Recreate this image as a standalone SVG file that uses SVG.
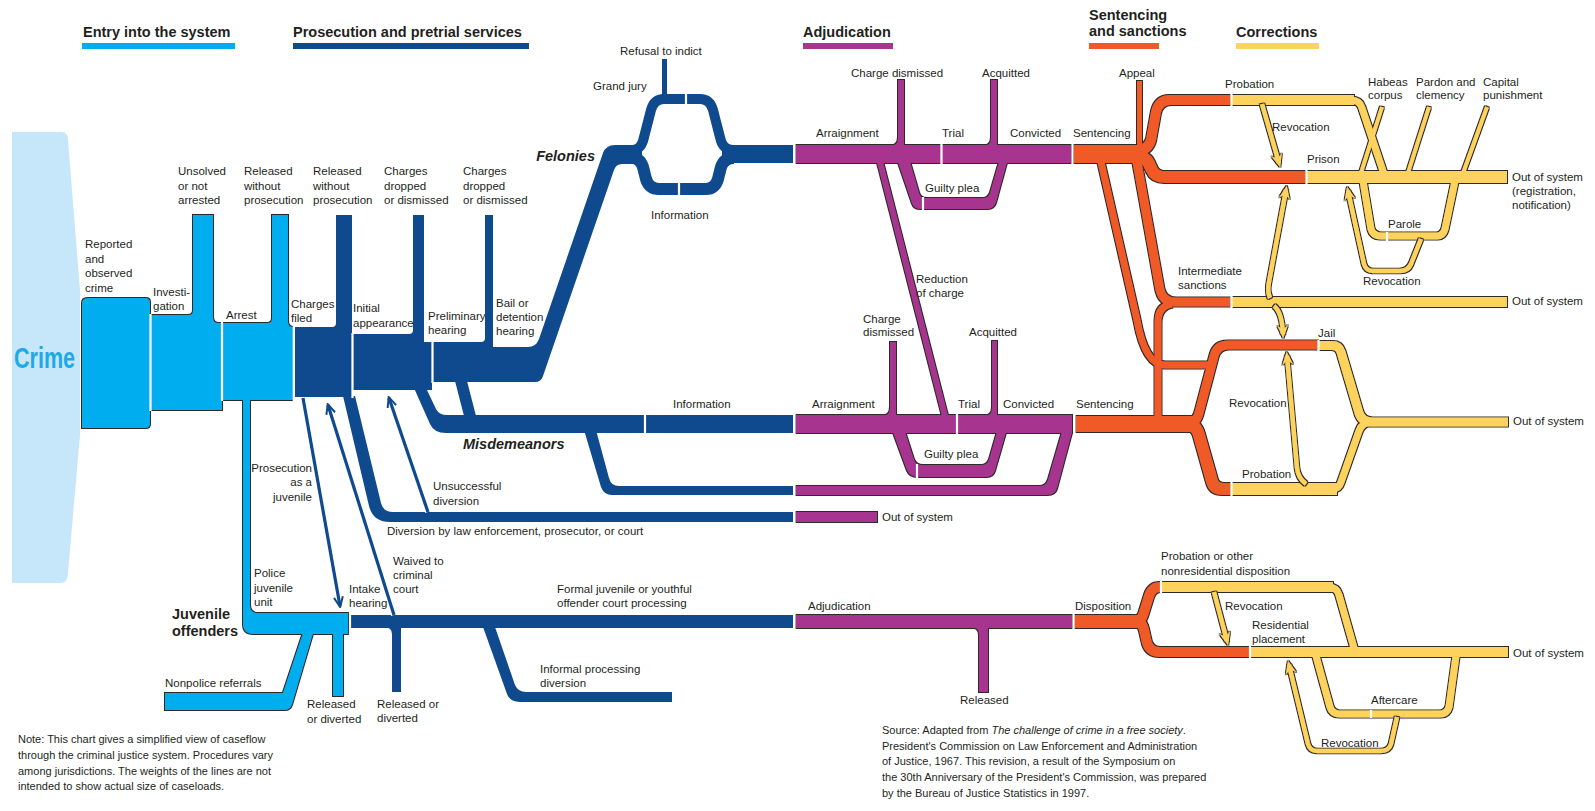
<svg xmlns="http://www.w3.org/2000/svg" width="1595" height="811" viewBox="0 0 1595 811">
<defs>
<style>
text{font-family:"Liberation Sans",Arial,sans-serif;font-size:11.5px;fill:#231f20}
.h{font-weight:bold;font-size:14.5px}
.bi{font-weight:bold;font-style:italic;font-size:14.5px}
.sm{font-size:11px}
.lb{fill:#00aeef}
.db{fill:#0f4a8e}
.pu{fill:#a7368f}
.or{fill:#f05a28}
.ye{fill:#fdd35d}
.sdb{fill:none;stroke:#0f4a8e}
.sor{fill:none;stroke:#f05a28}
.sye{fill:none;stroke:#fdd35d}
.sep{fill:none;stroke:#fff;stroke-width:2.2}
.arb{fill:none;stroke:#0f4a8e;stroke-width:3.2}
.arw{fill:none;stroke:#fff;stroke-width:6}
.ary{fill:none;stroke:#fdd35d;stroke-width:4.5}
</style>
<filter id="ol" filterUnits="userSpaceOnUse" x="0" y="0" width="1595" height="811">
<feMorphology in="SourceAlpha" operator="dilate" radius="0.8" result="d"/>
<feFlood flood-color="#2e2a2b" result="c"/>
<feComposite in="c" in2="d" operator="in" result="o"/>
<feMerge><feMergeNode in="o"/><feMergeNode in="SourceGraphic"/></feMerge>
</filter>
<marker id="ab" viewBox="0 0 12 12" refX="10" refY="6" markerWidth="12" markerHeight="12" markerUnits="userSpaceOnUse" orient="auto">
<path d="M1,1.5 L11,6 L1,10.5" fill="none" stroke="#0f4a8e" stroke-width="2"/>
</marker>
<marker id="ay" viewBox="0 0 12 12" refX="8" refY="6" markerWidth="13" markerHeight="13" markerUnits="userSpaceOnUse" orient="auto">
<path d="M0,1 L12,6 L0,11 L4,6 Z" fill="#fdd35d"/>
</marker>
</defs>
<rect width="1595" height="811" fill="#fff"/>

<g id="crime">
<path fill="#c6e7f9" d="M12,132 L61,132 Q68,132 68,140 L80,290 L80,435 L68,573 Q68,583 60,583 L12,583 Z"/>
</g>

<g id="entry" filter="url(#ol)">
<path class="lb" d="M82,304 Q82,298 88,298 L145,298 Q150,298 150,303 L150,315 L189,315 Q193,315 193,311 L193,215 L213,215 L213,318 Q213,323 218,323 L268,323 Q272,323 272,319 L272,215 L288,215 L288,322 Q288,327 293,327 L293,400 L222,400 L222,410 L150,410 L150,423 Q150,428 145,428 L82,428 Z"/>
<path class="lb" d="M243,399 L250,399 L250,606 Q250,613 257,613 L348,613 L348,634 L254,634 Q243,634 243,623 Z"/>
<path class="lb" d="M165,693 L283,693 L303,633 L313,633 L292,704 Q290,710 284,710 L165,710 Z"/>
<rect class="lb" x="333" y="633" width="10" height="63"/>
</g>

<g id="prosecution">
<path class="db" d="M295,327 L332,327 Q336,327 336,323 L336,215 L352,215 L352,334 L409,334 Q413,334 413,330 L413,215 L424,215 L424,342 L481,342 Q485,342 485,338 L485,215 L493,215 L493,347 L528,347 Q536,347 539,339 L603,153 Q606,145 615,145 L642,145 L642,164 L622,164 Q616,164 614,170 L543,376 Q541,382 535,382 L432,382 L432,390 L352,390 L352,397 L295,397 Z"/>
<path class="sdb" stroke-width="10" d="M632,150 Q640,150 643,141 L651,110 Q654,99 664,99 L700,99 Q710,99 713,110 L721,141 Q724,150 734,150"/>
<path class="sdb" stroke-width="12" d="M632,158 Q640,158 643,167 L646,179 Q649,189 659,189 L706,189 Q715,189 718,179 L721,167 Q724,158 734,158"/>
<rect class="db" x="722" y="145" width="71" height="18"/>
<rect class="db" x="662" y="59" width="5" height="37"/>
<path class="db" d="M414,388 L426,388 L436,409 Q439,415 447,415 L793,415 L793,433 L446,433 Q434,433 430,424 Z"/>
<path class="db" d="M455,381 L467,381 L476,416 L464,416 Z"/>
<path class="db" d="M584,430 L596,430 L609,478 Q611,486 619,486 L793,486 L793,495 L612,495 Q604,495 601,487 Z"/>
<path class="db" d="M343,396 L355,396 L381,503 Q383,512 393,512 L793,512 L793,522 L390,522 Q373,522 369,506 Z"/>
<rect class="db" x="350" y="615" width="443" height="13"/>
<path class="db" d="M385,627 L401,627 L401,692 L392,692 L392,634 Q392,628 385,627 Z"/>
<path class="db" d="M483,627 L495,627 L515,685 Q518,692 526,692 L672,692 L672,702 L520,702 Q510,702 507,694 Z"/>
</g>

<g id="connectors">
<path class="arw" d="M303,398 L340,606"/>
<path class="arb" d="M303,398 L340,606" marker-end="url(#ab)"/>
<path class="arw" d="M394,615 L328,405"/>
<path class="arb" d="M394,615 L328,405" marker-end="url(#ab)"/>
<path class="arw" d="M428,512 L389,398"/>
<path class="arb" d="M428,512 L389,398" marker-end="url(#ab)"/>
</g>

<g id="adjudication" filter="url(#ol)">
<rect class="pu" x="796" y="145" width="275" height="18"/>
<path class="pu" d="M898,80 L904,80 L904,146 L890,146 Q898,146 898,138 Z"/>
<path class="pu" d="M991,80 L997,80 L997,146 L983,146 Q991,146 991,138 Z"/>
<path class="pu" d="M898,162 L910,162 L919,193 Q920,198 926,198 L984,198 Q988,198 990,193 L999,162 L1007,162 L996,202 Q994,209 987,209 L921,209 Q914,209 912,203 Z"/>
<path class="pu" d="M877,162 L883,162 L948,416 L942,416 Z"/>
<rect class="pu" x="796" y="415" width="276" height="18"/>
<path class="pu" d="M890,342 L896,342 L896,416 L882,416 Q890,416 890,408 Z"/>
<path class="pu" d="M992,341 L997,341 L997,416 L984,416 Q992,416 992,408 Z"/>
<path class="pu" d="M893,432 L905,432 L914,460 Q916,465 922,465 L982,465 Q987,465 989,460 L997,432 L1006,432 L995,470 Q993,477 986,477 L918,477 Q910,477 907,470 Z"/>
<path class="pu" d="M796,486 L1040,486 Q1046,486 1048,480 L1062,432 L1072,432 L1057,488 Q1055,495 1047,495 L796,495 Z"/>
<rect class="pu" x="796" y="512" width="81" height="10"/>
<rect class="pu" x="796" y="615" width="276" height="13"/>
<path class="pu" d="M971,627 L988,627 L988,692 L979,692 L979,634 Q979,627 971,627 Z"/>
</g>

<g id="sentencing" filter="url(#ol)">
<rect class="or" x="1074" y="145" width="72" height="18"/>
<rect class="or" x="1137" y="81" width="5" height="66"/>
<path class="sor" stroke-width="10" d="M1138,150 Q1148,150 1151,140 L1156,112 Q1159,100 1170,100 L1231,100"/>
<path class="sor" stroke-width="12" d="M1138,157 Q1147,157 1150,166 L1152,170 Q1155,177 1165,177 L1306,177"/>
<path class="sor" stroke-width="7" d="M1101,162 L1137,320 Q1145,365 1165,365 L1214,365"/>
<path class="sor" stroke-width="9" d="M1137,162 L1160,290 Q1163,302 1175,302 L1231,302"/>
<path class="sor" stroke-width="7" d="M1158,418 L1158,322 Q1158,306 1172,304"/>
<rect class="or" x="1076" y="416" width="117" height="16"/>
<path class="sor" stroke-width="9" d="M1186,424 Q1196,424 1199,413 L1214,356 Q1217,345 1228,345 L1318,345"/>
<path class="sor" stroke-width="12" d="M1186,424 Q1196,424 1199,435 L1212,481 Q1214,489 1223,489 L1231,489"/>
<rect class="or" x="1074" y="615" width="66" height="13"/>
<path class="sor" stroke-width="10" d="M1135,621 Q1142,621 1144,612 L1149,596 Q1152,587 1160,587 L1162,587"/>
<path class="sor" stroke-width="10" d="M1135,621 Q1142,621 1144,630 L1147,643 Q1150,652 1160,652 L1250,652"/>
</g>

<g id="corrections" filter="url(#ol)">
<path class="sye" stroke-width="4" d="M1360,176 L1382,107"/>
<path class="sye" stroke-width="4" d="M1407,176 L1429,107"/>
<path class="sye" stroke-width="4" d="M1462,176 L1487,107"/>
<rect class="ye" x="1232" y="95" width="122" height="10"/>
<path class="sye" stroke-width="7" d="M1350,100 Q1360,100 1362,108 L1384,174"/>
<rect class="ye" x="1307" y="171" width="200" height="12"/>
<path class="sye" stroke-width="7" d="M1363,181 L1371,229 Q1373,236 1381,236 L1437,236 Q1443,236 1445,229 L1455,181"/>
<rect class="ye" x="1232" y="297" width="275" height="10"/>
<path class="sye" stroke-width="9" d="M1319,345.5 L1332,345.5 Q1339,345.5 1341,352 L1359,413 Q1362,422 1372,422 L1508,422"/>
<rect class="ye" x="1232" y="483" width="105" height="12"/>
<path class="sye" stroke-width="7" d="M1332,489 Q1339,489 1341,482 L1359,431 Q1362,422 1372,422"/>
<rect class="ye" x="1161" y="582" width="172" height="10"/>
<path class="sye" stroke-width="7" d="M1328,587 Q1337,587 1339,595 L1354,648"/>
<rect class="ye" x="1250" y="647" width="258" height="10"/>
<path class="sye" stroke-width="7" d="M1316,656 L1330,707 Q1332,714 1340,714 L1440,714 Q1447,714 1449,707 L1456,656"/>
</g>

<g id="revocations" filter="url(#ol)">
<path class="ary" d="M1262,104 L1279,163" marker-end="url(#ay)"/>
<path class="ary" d="M1270,298 Q1267,292 1269,282 L1286,190" marker-end="url(#ay)"/>
<path class="ary" d="M1274,306 Q1282,312 1283,334" marker-end="url(#ay)"/>
<path class="ary" d="M1306,484 Q1298,478 1297,468 L1287,356" marker-end="url(#ay)"/>
<path class="ary" d="M1421,239 L1411,264 Q1408,271 1400,271 L1373,271 Q1366,271 1364,264 L1348,191" marker-end="url(#ay)"/>
<path class="ary" d="M1214,592 L1227,641" marker-end="url(#ay)"/>
<path class="ary" d="M1397,717 L1391,744 Q1389,751 1381,751 L1317,751 Q1310,751 1308,744 L1289,665" marker-end="url(#ay)"/>
</g>

<g id="separators">
<path class="sep" d="M150.5,314 V411 M222,322 V401 M293.8,326 V401 M350,612 V635 M352.5,333 V398 M432.5,341 V383 M686,93 V105 M679,182 V196 M645,414 V434 M794.5,143 V165 M794.5,414 V434 M794.5,485 V496 M794.5,511 V523 M794.5,614 V629 M941.5,144 V164 M957,414 V434 M923,197 V210 M917,464 V478 M1072.5,144 V164 M1074.5,414 V434 M1073.5,614 V629 M1231.5,94 V106 M1306.5,170 V184 M1231.5,296 V308 M1318.5,340 V351 M1231.5,482 V496 M1161,581 V593 M1250,646 V658 M1387,232 V241 M1371,710 V718"/>
</g>

<g id="headers">
<text class="h" x="83" y="37">Entry into the system</text>
<rect x="82" y="43" width="153" height="6" fill="#00aeef"/>
<text class="h" x="293" y="37">Prosecution and pretrial services</text>
<rect x="293" y="43" width="236" height="6" fill="#0f4a8e"/>
<text class="h" x="803" y="37">Adjudication</text>
<rect x="803" y="43" width="90" height="6" fill="#a7368f"/>
<text class="h" x="1089" y="20">Sentencing</text>
<text class="h" x="1089" y="36">and sanctions</text>
<rect x="1089" y="43" width="70" height="6" fill="#f05a28"/>
<text class="h" x="1236" y="37">Corrections</text>
<rect x="1236" y="43" width="83" height="6" fill="#fdd35d"/>
</g>

<g id="labels">
<text x="14" y="368" font-size="29" font-weight="bold" style="fill:#1fa9e6;font-size:29px" textLength="61" lengthAdjust="spacingAndGlyphs">Crime</text>
<text x="85" y="248">Reported</text><text x="85" y="263">and</text><text x="85" y="277">observed</text><text x="85" y="292">crime</text>
<text x="153" y="296">Investi-</text><text x="153" y="310">gation</text>
<text x="178" y="175">Unsolved</text><text x="178" y="190">or not</text><text x="178" y="204">arrested</text>
<text x="244" y="175">Released</text><text x="244" y="190">without</text><text x="244" y="204">prosecution</text>
<text x="226" y="319">Arrest</text>
<text x="291" y="308">Charges</text><text x="291" y="322">filed</text>
<text x="313" y="175">Released</text><text x="313" y="190">without</text><text x="313" y="204">prosecution</text>
<text x="384" y="175">Charges</text><text x="384" y="190">dropped</text><text x="384" y="204">or dismissed</text>
<text x="463" y="175">Charges</text><text x="463" y="190">dropped</text><text x="463" y="204">or dismissed</text>
<text x="353" y="312">Initial</text><text x="353" y="327">appearance</text>
<text x="428" y="320">Preliminary</text><text x="428" y="334">hearing</text>
<text x="496" y="307">Bail or</text><text x="496" y="321">detention</text><text x="496" y="335">hearing</text>
<text class="bi" x="595" y="161" text-anchor="end">Felonies</text>
<text x="593" y="90">Grand jury</text>
<text x="620" y="55">Refusal to indict</text>
<text x="651" y="219">Information</text>
<text x="816" y="137">Arraignment</text>
<text x="942" y="137">Trial</text>
<text x="1010" y="137">Convicted</text>
<text x="851" y="77">Charge dismissed</text>
<text x="982" y="77">Acquitted</text>
<text x="925" y="192">Guilty plea</text>
<text x="916" y="283">Reduction</text><text x="916" y="297">of charge</text>
<text x="1119" y="77">Appeal</text>
<text x="1073" y="137">Sentencing</text>
<text x="1225" y="88">Probation</text>
<text x="1272" y="131">Revocation</text>
<text x="1307" y="163">Prison</text>
<text x="1368" y="86">Habeas</text><text x="1368" y="99">corpus</text>
<text x="1416" y="86">Pardon and</text><text x="1416" y="99">clemency</text>
<text x="1483" y="86">Capital</text><text x="1483" y="99">punishment</text>
<text x="1512" y="181">Out of system</text><text x="1512" y="195">(registration,</text><text x="1512" y="209">notification)</text>
<text x="1388" y="228">Parole</text>
<text x="1363" y="285">Revocation</text>
<text x="1178" y="275">Intermediate</text><text x="1178" y="289">sanctions</text>
<text x="1512" y="305">Out of system</text>
<text class="bi" x="463" y="449">Misdemeanors</text>
<text x="673" y="408">Information</text>
<text x="812" y="408">Arraignment</text>
<text x="958" y="408">Trial</text>
<text x="1003" y="408">Convicted</text>
<text x="863" y="323">Charge</text><text x="863" y="336">dismissed</text>
<text x="969" y="336">Acquitted</text>
<text x="924" y="458">Guilty plea</text>
<text x="1076" y="408">Sentencing</text>
<text x="1318" y="337">Jail</text>
<text x="1229" y="407">Revocation</text>
<text x="1242" y="478">Probation</text>
<text x="1513" y="425">Out of system</text>
<text x="433" y="490">Unsuccessful</text><text x="433" y="505">diversion</text>
<text x="387" y="535">Diversion by law enforcement, prosecutor, or court</text>
<text x="882" y="521">Out of system</text>
<text x="312" y="472" text-anchor="end">Prosecution</text><text x="312" y="486" text-anchor="end">as a</text><text x="312" y="501" text-anchor="end">juvenile</text>
<text x="254" y="577">Police</text><text x="254" y="592">juvenile</text><text x="254" y="606">unit</text>
<text class="h" x="172" y="619">Juvenile</text><text class="h" x="172" y="636">offenders</text>
<text x="349" y="593">Intake</text><text x="349" y="607">hearing</text>
<text x="393" y="565">Waived to</text><text x="393" y="579">criminal</text><text x="393" y="593">court</text>
<text x="557" y="593">Formal juvenile or youthful</text><text x="557" y="607">offender court processing</text>
<text x="165" y="687">Nonpolice referrals</text>
<text x="307" y="708">Released</text><text x="307" y="723">or diverted</text>
<text x="377" y="708">Released or</text><text x="377" y="722">diverted</text>
<text x="540" y="673">Informal processing</text><text x="540" y="687">diversion</text>
<text x="808" y="610">Adjudication</text>
<text x="960" y="704">Released</text>
<text x="1075" y="610">Disposition</text>
<text x="1161" y="560">Probation or other</text><text x="1161" y="575">nonresidential disposition</text>
<text x="1225" y="610">Revocation</text>
<text x="1252" y="629">Residential</text><text x="1252" y="643">placement</text>
<text x="1513" y="657">Out of system</text>
<text x="1371" y="704">Aftercare</text>
<text x="1321" y="747">Revocation</text>
</g>

<g id="notes">
<text class="sm" x="18" y="743">Note: This chart gives a simplified view of caseflow</text>
<text class="sm" x="18" y="759">through the criminal justice system. Procedures vary</text>
<text class="sm" x="18" y="775">among jurisdictions. The weights of the lines are not</text>
<text class="sm" x="18" y="790">intended to show actual size of caseloads.</text>
<text class="sm" x="882" y="734">Source: Adapted from <tspan font-style="italic">The challenge of crime in a free society</tspan>.</text>
<text class="sm" x="882" y="750">President's Commission on Law Enforcement and Administration</text>
<text class="sm" x="882" y="765">of Justice, 1967. This revision, a result of the Symposium on</text>
<text class="sm" x="882" y="781">the 30th Anniversary of the President's Commission, was prepared</text>
<text class="sm" x="882" y="797">by the Bureau of Justice Statistics in 1997.</text>
</g>
</svg>
